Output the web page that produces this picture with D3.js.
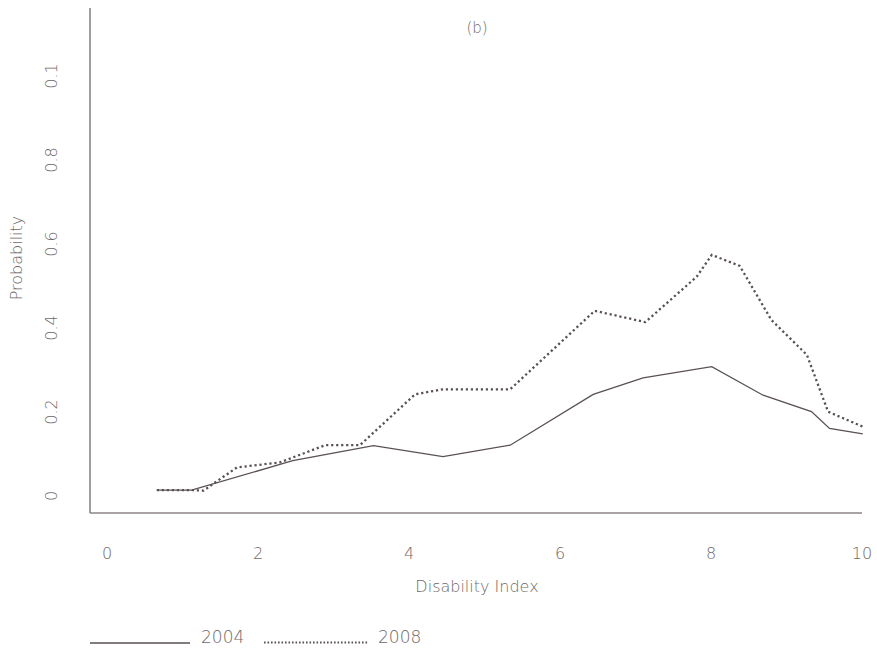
<!DOCTYPE html>
<html>
<head>
<meta charset="utf-8">
<script src="https://cdn.jsdelivr.net/npm/d3@7"></script>
<style>
  html, body { margin: 0; padding: 0; background: #fff; }
  svg text { font-family: "DejaVu Sans", "Noto Sans", sans-serif; font-weight: 200; fill: #6f6868; }
</style>
</head>
<body>
<svg id="chart" width="877" height="650"></svg>
<script>
// Disability index positions for each estimate
const index2004 = [0.66, 1.12, 2.46, 3.53, 4.45, 5.34, 6.44, 7.10, 8.01, 8.69, 9.33, 9.57, 10.01];
const prob2004  = [0.014, 0.014, 0.084, 0.120, 0.094, 0.121, 0.242, 0.281, 0.308, 0.240, 0.201, 0.161, 0.148];

const index2008 = [0.66, 1.12, 1.28, 1.72, 2.29, 2.89, 3.35, 4.08, 4.45, 5.34, 6.46, 7.13, 7.81, 8.01, 8.38, 8.80, 9.27, 9.55, 10.01];
const prob2008  = [0.014, 0.014, 0.013, 0.068, 0.080, 0.121, 0.121, 0.242, 0.254, 0.254, 0.441, 0.414, 0.522, 0.574, 0.548, 0.419, 0.336, 0.201, 0.165];

const xTickValues = [0, 2, 4, 6, 8, 10];
const yTickValues = [0, 0.2, 0.4, 0.6, 0.8, 1.0];
const yTickLabels = ["0", "0.2", "0.4", "0.6", "0.8", "0.1"];

const svg = d3.select("#chart");
const axisColor = "#8d8585";
const lineColor = "#5a5151";

const x = d3.scaleLinear().domain([0, 10]).range([107, 862]);
const y = d3.scaleLinear().domain([0, 1]).range([496, 76]);

// Axis frame: left and bottom lines
svg.append("line").attr("x1", 90).attr("x2", 90).attr("y1", 8).attr("y2", 513)
  .attr("stroke", axisColor).attr("stroke-width", 1.6);
svg.append("line").attr("x1", 90).attr("x2", 862).attr("y1", 513).attr("y2", 513)
  .attr("stroke", axisColor).attr("stroke-width", 1.6);

// X tick labels
svg.append("g").selectAll("text").data(xTickValues).join("text")
  .attr("x", d => x(d)).attr("y", 559)
  .attr("text-anchor", "middle").attr("font-size", 16)
  .text(d => d);

// Y tick labels, rotated
svg.append("g").selectAll("text").data(yTickValues).join("text")
  .attr("transform", d => `translate(57,${y(d)}) rotate(-90)`)
  .attr("text-anchor", "middle").attr("font-size", 16)
  .text((d, i) => yTickLabels[i]);

// Axis titles
svg.append("text").attr("x", 477).attr("y", 592).attr("text-anchor", "middle")
  .attr("font-size", 16).text("Disability Index");
svg.append("text").attr("transform", "translate(22,258) rotate(-90)")
  .attr("text-anchor", "middle").attr("font-size", 16).text("Probability");
svg.append("text").attr("x", 477).attr("y", 33).attr("text-anchor", "middle")
  .attr("font-size", 15).text("(b)");

const line = d3.line().x(d => x(d[0])).y(d => y(d[1]));

svg.append("path")
  .datum(d3.zip(index2004, prob2004))
  .attr("d", line).attr("fill", "none")
  .attr("stroke", lineColor).attr("stroke-width", 1.3);

svg.append("path")
  .datum(d3.zip(index2008, prob2008))
  .attr("d", line).attr("fill", "none")
  .attr("stroke", lineColor).attr("stroke-width", 2.3)
  .attr("stroke-dasharray", "2.2,2.8");

// Legend
const legend = svg.append("g");
legend.append("line").attr("x1", 90).attr("x2", 190).attr("y1", 643).attr("y2", 643)
  .attr("stroke", lineColor).attr("stroke-width", 1.3);
legend.append("text").attr("x", 201).attr("y", 643).attr("font-size", 17).text("2004");
legend.append("line").attr("x1", 264).attr("x2", 368).attr("y1", 642.5).attr("y2", 642.5)
  .attr("stroke", lineColor).attr("stroke-width", 1.8)
  .attr("stroke-dasharray", "1.6,1.9");
legend.append("text").attr("x", 378).attr("y", 643).attr("font-size", 17).text("2008");
</script>
</body>
</html>
